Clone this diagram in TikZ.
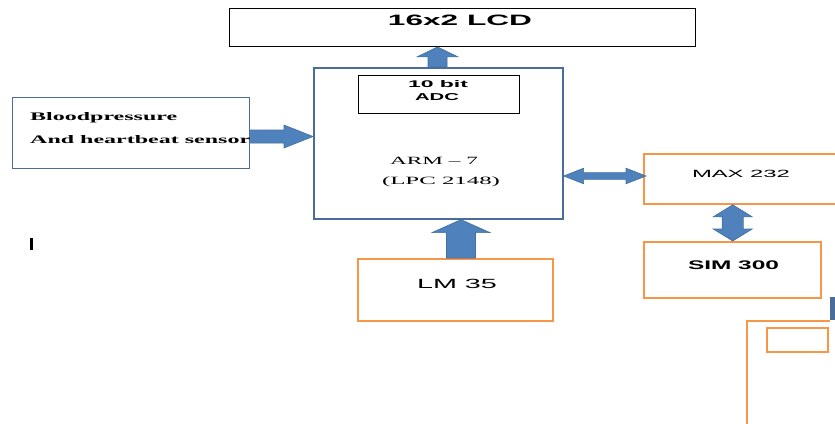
\documentclass[tikz,border=0pt]{standalone}
\usepackage{fontspec}
\usepackage{graphicx}
\setmainfont{Liberation Serif}
\setsansfont{Liberation Sans}
\usetikzlibrary{calc}
\definecolor{abl}{HTML}{4F81BD}
\definecolor{abd}{HTML}{41719C}
\definecolor{bbox}{HTML}{4A6C9B}
\definecolor{orb}{HTML}{F79646}
\newcommand\fitt[3]{\resizebox{#1pt}{#2pt}{#3}}
\tikzset{
  box/.style={draw, rectangle, inner sep=0pt, anchor=north west},
  blackbox/.style={box, draw=black, line width=0.9pt},
  bluebox/.style={box, draw=bbox, line width=1.6pt},
  orbox/.style={box, draw=orb, line width=1.8pt},
  txt/.style={inner sep=0pt, anchor=base, text=black},
  barrow/.style={fill=abl, draw=abd, line width=0.6pt, line join=miter},
}
\begin{document}
\begin{tikzpicture}[x=1pt,y=-1pt]
\useasboundingbox[fill=white] (0,0) rectangle (835,423);

% boxes
\node[blackbox, minimum width=466pt, minimum height=38pt] (lcd) at (229,8) {};
\node[bluebox, minimum width=249pt, minimum height=151pt] (arm) at (313,67) {};
\node[blackbox, minimum width=161pt, minimum height=38pt] (adc) at (358,75) {};
\node[bluebox, line width=1.3pt, minimum width=237pt, minimum height=71pt] (sensor) at (12,97) {};
\node[orbox, minimum width=196pt, minimum height=50pt] (max) at (643,153) {};
\node[orbox, minimum width=177pt, minimum height=56pt] (sim) at (643,241) {};
\node[orbox, minimum width=195pt, minimum height=62pt] (lm) at (357,258) {};
\node[orbox, minimum width=61pt, minimum height=24pt] (small) at (766,327) {};

% texts
\node[txt] (lcdt) at (460,25.5) {\fitt{144}{10.5}{\sffamily\bfseries 16x2 LCD}};
\node[txt] (adct1) at (438,87) {\fitt{60}{7}{\sffamily\bfseries 10 bit}};
\node[txt] (adct2) at (437,100.5) {\fitt{44}{7}{\sffamily\bfseries ADC}};
\node[txt] (armt1) at (434,164) {\fitt{88}{7.3}{ARM -- 7}};
\node[txt] (armt2) at (441,184) {\fitt{118}{7.7}{(LPC 2148)}};
\begin{scope}
\clip (sensor.north west) rectangle (sensor.south east);
\node[txt, anchor=base west] (sent1) at (30,120.7) {\fitt{147}{8}{\bfseries Bloodpressure}};
\node[txt, anchor=base west] (sent2) at (30,143.3) {\fitt{220}{8}{\bfseries And heartbeat sensor}};
\end{scope}
\node[txt] (maxt) at (741,177.3) {\fitt{98}{7.3}{\sffamily MAX 232}};
\node[txt] (simt) at (733.5,269.3) {\fitt{91}{8.7}{\sffamily\bfseries SIM 300}};
\node[txt] (lmt) at (457,288.3) {\fitt{80}{9.3}{\sffamily LM 35}};

% arrow ARM -> LCD
\coordinate (a1s) at (arm.north -| 437.5,0);
\coordinate (a1e) at (lcd.south -| 437.5,0);
\draw[barrow] ($(a1s)+(-9.5,0)$) -- ($(a1e)+(-9.5,10)$) -- ($(a1e)+(-20.5,10)$) -- (a1e)
  -- ($(a1e)+(20.5,10)$) -- ($(a1e)+(9.5,10)$) -- ($(a1s)+(9.5,0)$) -- cycle;

% arrow sensor -> ARM
\coordinate (a2s) at (sensor.east |- 0,136.5);
\coordinate (a2e) at (arm.west |- 0,136.5);
\draw[barrow] ($(a2s)+(0,-6.5)$) -- ($(a2e)+(-29,-6.5)$) -- ($(a2e)+(-29,-11.5)$) -- (a2e)
  -- ($(a2e)+(-29,11.5)$) -- ($(a2e)+(-29,6.5)$) -- ($(a2s)+(0,6.5)$) -- cycle;

% arrow LM35 -> ARM
\coordinate (a3s) at (lm.north -| 461,0);
\coordinate (a3e) at (arm.south -| 461,0);
\draw[barrow] ($(a3s)+(-14.5,0)$) -- ($(a3e)+(-14.5,13)$) -- ($(a3e)+(-29,13)$) -- (a3e)
  -- ($(a3e)+(29,13)$) -- ($(a3e)+(14.5,13)$) -- ($(a3s)+(14.5,0)$) -- cycle;

% double arrow ARM <-> MAX
\coordinate (a4s) at (arm.east |- 0,176);
\coordinate (a4e) at ($(max.west |- 0,176)+(3,0)$);
\draw[barrow] (a4s) -- ($(a4s)+(20,-7.8)$) -- ($(a4s)+(20,-3.4)$) -- ($(a4e)+(-20,-3.4)$)
  -- ($(a4e)+(-20,-7.8)$) -- (a4e) -- ($(a4e)+(-20,7.8)$) -- ($(a4e)+(-20,3.4)$)
  -- ($(a4s)+(20,3.4)$) -- ($(a4s)+(20,7.8)$) -- cycle;

% double arrow MAX <-> SIM
\coordinate (a5s) at (max.south -| 732.7,0);
\coordinate (a5e) at (sim.north -| 732.7,0);
\draw[barrow] (a5s) -- ($(a5s)+(19.5,12)$) -- ($(a5s)+(10.5,12)$) -- ($(a5e)+(10.5,-12)$)
  -- ($(a5e)+(19.5,-12)$) -- (a5e) -- ($(a5e)+(-19.5,-12)$) -- ($(a5e)+(-10.5,-12)$)
  -- ($(a5s)+(-10.5,12)$) -- ($(a5s)+(-19.5,12)$) -- cycle;

% bottom-right fragments
\coordinate (c1) at (747,425);
\coordinate (c2) at (747,321);
\coordinate (c3) at (830,321);
\draw[orb, line width=1.8pt] (c1) -- (c2) -- (c3);
\fill[bbox] (830,297) rectangle (836,320);

% stray mark
\fill[black] (29.5,238) rectangle (33,250);
\end{tikzpicture}
\end{document}
